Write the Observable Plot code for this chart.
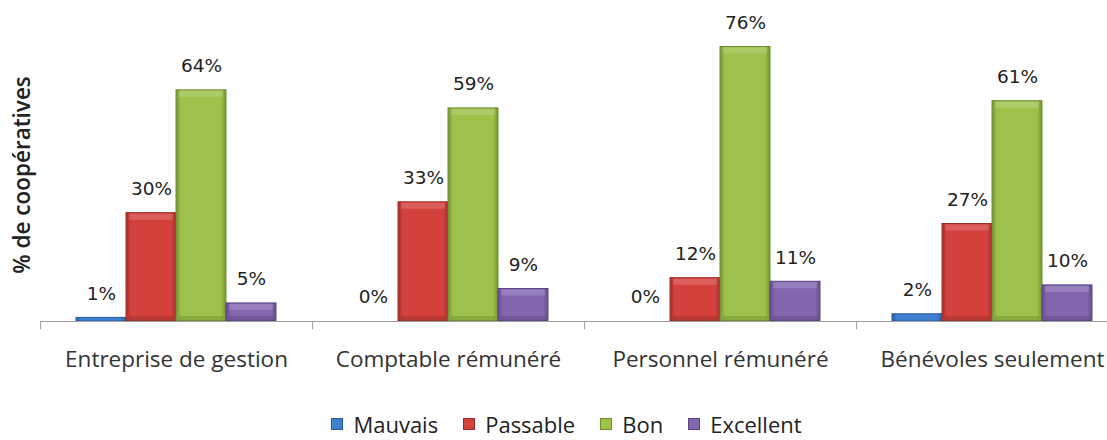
<!DOCTYPE html>
<html>
<head>
<meta charset="utf-8">
<script src="https://cdn.jsdelivr.net/npm/d3@7"></script>
<script src="https://cdn.jsdelivr.net/npm/@observablehq/plot@0.6"></script>
<style>
  html, body { margin: 0; padding: 0; background: #fff; }
  #chart { width: 1107px; height: 440px; overflow: hidden; }
  .legend { display: flex; justify-content: center; align-items: center;
    font-family: "Open Sans", sans-serif; font-size: 22px; line-height: 1; color: #222;
    padding-left: 26px; box-sizing: border-box; width: 1107px; height: 28px; padding-top: 0; }
  .legend .item { display: flex; align-items: center; margin-right: 25px; line-height: 1; }
  .legend .item:last-child { margin-right: 0; }
  .legend .sw { width: 12px; height: 12px; box-sizing: border-box; border: 1px solid; margin-right: 10px; }
</style>
</head>
<body>
<div id="chart"></div>
<script>
const categories = ["Entreprise de gestion", "Comptable rémunéré", "Personnel rémunéré", "Bénévoles seulement"];
const series = ["Mauvais", "Passable", "Bon", "Excellent"];
const mauvais = [1, 0, 0, 2];
const passable = [30, 33, 12, 27];
const bon = [64, 59, 76, 61];
const excellent = [5, 9, 11, 10];
const colors = ["#3f7fd0", "#d4403c", "#9dc24a", "#8466b0"];
const darkColors = ["#2a5a9a", "#9c2e2b", "#6f8f32", "#5c4785"];
const yLabel = "% de coopératives";

const valuesBySeries = [mauvais, passable, bon, excellent];
const data = [];
categories.forEach((c, i) => series.forEach((s, j) => data.push({cat: c, ser: s, v: valuesBySeries[j][i]})));

const plot = Plot.plot({
  width: 1107,
  height: 410,
  marginLeft: 40,
  marginRight: -21,
  marginTop: 14,
  marginBottom: 89,
  style: {fontFamily: "Open Sans, sans-serif", background: "white"},
  fx: {domain: categories, padding: 0, label: null},
  x: {domain: series, paddingInner: 0, paddingOuter: 0.72, axis: null},
  y: {domain: [0, 85], axis: null},
  color: {domain: series, range: colors},
  marks: [
    Plot.barY(data, {fx: "cat", x: "ser", y: "v", fill: "ser", stroke: d => darkColors[series.indexOf(d.ser)], strokeWidth: 1}),
    Plot.barY(data, {fx: "cat", x: "ser", y: "v", fill: "url(#hgrad)", insetLeft: 0.5, insetRight: 0.5}),
    Plot.tickY(data.filter(d => d.v >= 4), {fx: "cat", x: "ser", y: "v", dy: 3.5, stroke: "white", strokeOpacity: 0.16, strokeWidth: 6, insetLeft: 3, insetRight: 3}),
    Plot.tickY(data.filter(d => d.v >= 4), {fx: "cat", x: "ser", y: 0, dy: -3, stroke: "black", strokeOpacity: 0.12, strokeWidth: 5, insetLeft: 3, insetRight: 3}),
    Plot.ruleY([0], {stroke: "#a0a0a0", strokeWidth: 1}),
    Plot.ruleX(categories, {fx: d => d, x: () => "Mauvais", y1: 0, y2: -2.3, dx: -61, stroke: "#a0a0a0"}),
    Plot.text(data, {fx: "cat", x: "ser", y: "v", text: d => d.v + "%", dy: -24, fontSize: 18.5, fontFamily: "DejaVu Sans, sans-serif", fill: "#222"}),
    Plot.text([categories[0]], {fx: d => d, frameAnchor: "left", textAnchor: "middle", text: () => yLabel, rotate: -90, dx: -18, dy: 7, fontSize: 22.5, fontWeight: 600, fontFamily: "Open Sans, sans-serif", fill: "#222"}),
    Plot.axisFx({anchor: "bottom", tickSize: 0, tickPadding: 30, fontSize: 22.5, fill: "#333", label: null, fontFamily: "Open Sans, sans-serif"})
  ]
});

const defs = d3.select(plot).insert("defs", ":first-child");
const g = defs.append("linearGradient").attr("id", "hgrad").attr("x1", 0).attr("x2", 1).attr("y1", 0).attr("y2", 0);
g.append("stop").attr("offset", 0).attr("stop-color", "black").attr("stop-opacity", 0.22);
g.append("stop").attr("offset", 0.09).attr("stop-color", "black").attr("stop-opacity", 0.0);
g.append("stop").attr("offset", 0.91).attr("stop-color", "black").attr("stop-opacity", 0.0);
g.append("stop").attr("offset", 1).attr("stop-color", "black").attr("stop-opacity", 0.22);

const chart = document.getElementById("chart");
chart.appendChild(plot);

const legend = d3.select(chart).append("div").attr("class", "legend");
series.forEach((s, j) => {
  const item = legend.append("div").attr("class", "item");
  item.append("div").attr("class", "sw").style("background", colors[j]).style("border-color", darkColors[j]);
  item.append("span").text(s);
});
</script>
</body>
</html>
